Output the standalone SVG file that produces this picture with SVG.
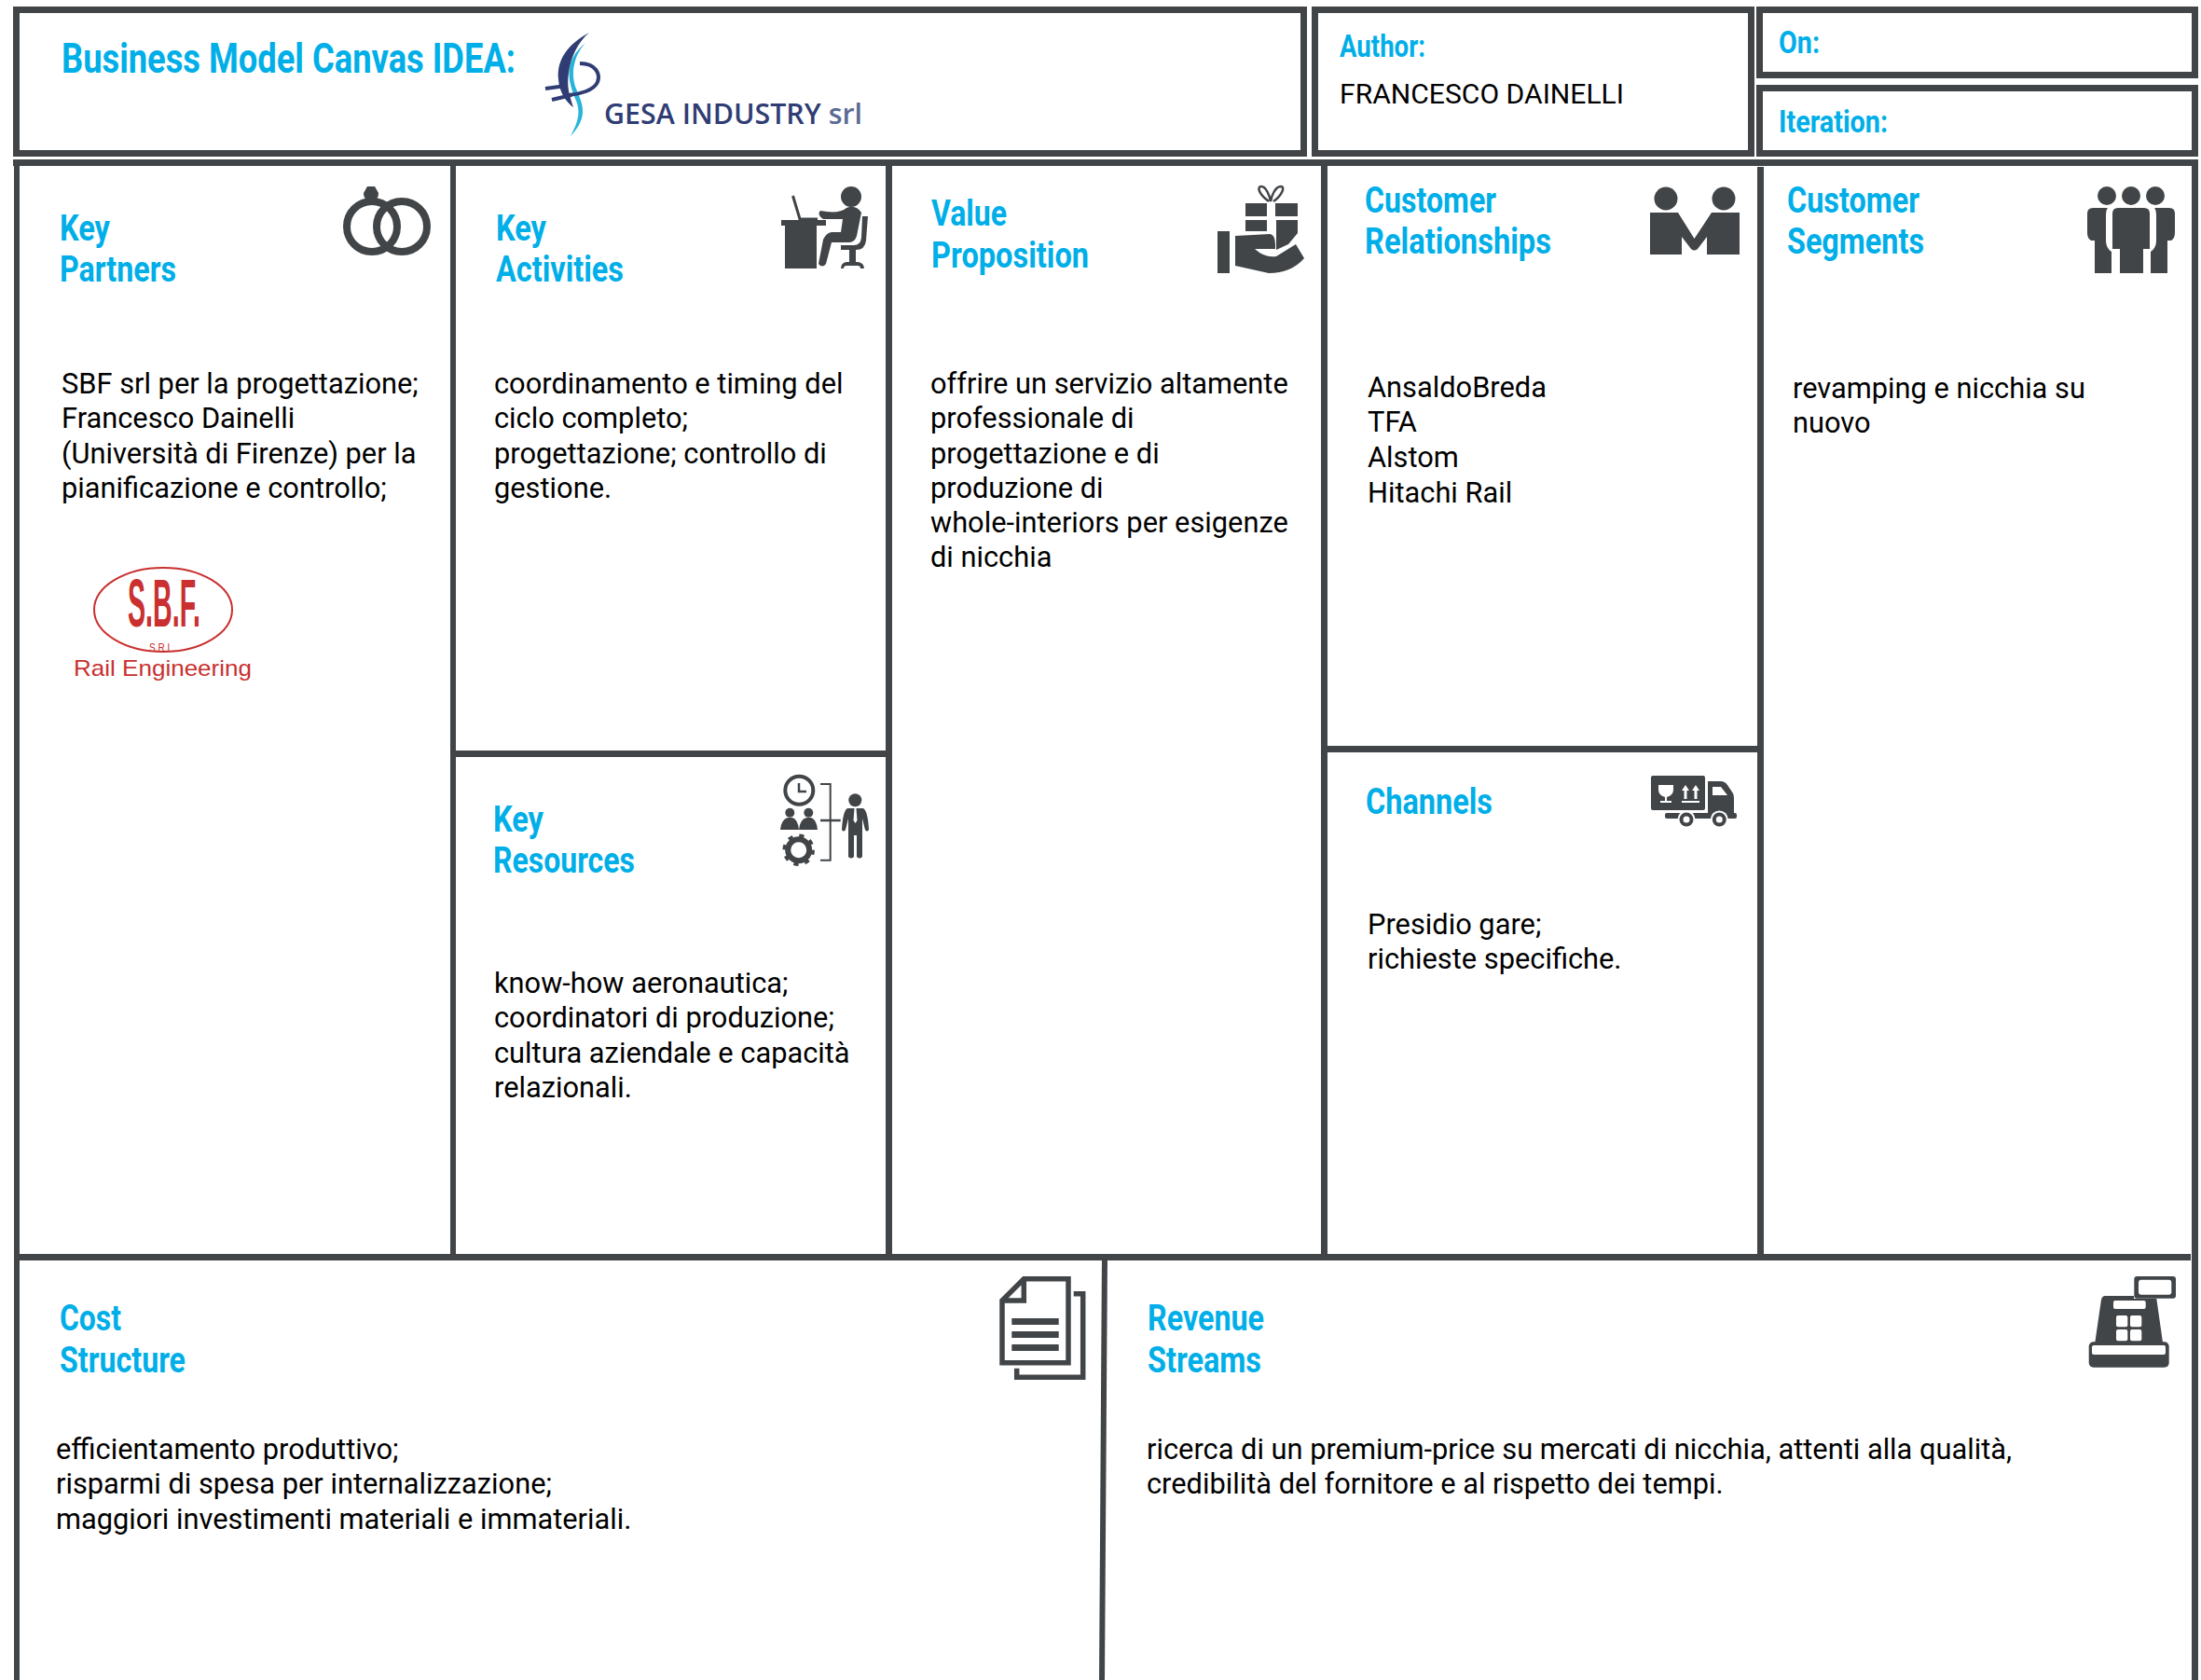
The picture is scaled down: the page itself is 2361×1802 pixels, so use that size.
<svg xmlns="http://www.w3.org/2000/svg" width="2361" height="1802" viewBox="0 0 2361 1802">
<style>
.b{fill:none;stroke:#414548;stroke-width:7}
.l{fill:#414548}
.w{fill:#fff}
.o{fill:none;stroke:#414548}
.h{font-family:Roboto,"Liberation Sans",sans-serif;font-weight:700;font-size:38px;fill:#00aee8}
.h2{font-size:34px}
.t{font-family:Roboto,"Liberation Sans",sans-serif;font-size:30.8px;fill:#000}
.g{font-family:"Open Sans","Liberation Sans",sans-serif;font-weight:600;fill:#2f3d74}
.r{font-family:"Liberation Sans",sans-serif;fill:#c9302f}
</style>
<rect width="2361" height="1802" fill="#fff"/>
<g id="grid">
<rect class="b" x="17.5" y="10.5" width="1381" height="154"/>
<rect class="b" x="1410.5" y="10.5" width="468" height="154"/>
<rect class="b" x="1887.5" y="10.5" width="467" height="70"/>
<rect class="b" x="1887.5" y="94.5" width="467" height="70"/>
<rect class="l" x="14" y="171" width="2344" height="7"/>
<rect class="l" x="15" y="171" width="6" height="1631"/>
<rect class="l" x="2351" y="171" width="7" height="1631"/>
<rect class="l" x="483" y="178" width="6" height="1174"/>
<rect class="l" x="950" y="178" width="7" height="1174"/>
<rect class="l" x="1417" y="178" width="7" height="1174"/>
<rect class="l" x="1885" y="179" width="7" height="1173"/>
<rect class="l" x="489" y="805" width="468" height="7"/>
<rect class="l" x="1424" y="800" width="461" height="7"/>
<rect class="l" x="15" y="1345" width="2335" height="7"/>
<path class="l" d="M1182,1345H1188L1185,1802H1179Z"/>
</g>
<g id="header">
<text class="h" x="66" y="78" style="font-size:44px" textLength="487" lengthAdjust="spacingAndGlyphs">Business Model Canvas IDEA:</text>
<g id="gesa-logo">
<path d="M628,46C615,60 612,80 618,95C625,112 632,125 612,146C622,128 622,118 618,108C608,85 605,65 628,46Z" fill="#29b5da"/>
<path d="M632,35C608,48 597,65 599,85C600,100 608,110 615,115C610,100 608,92 610,78C612,62 620,45 632,35Z" fill="#2f3d74"/>
<path d="M622,68C640,68 644,80 641,88C637,97 622,101 610,102M585,95L607,92M592,107L613,102" fill="none" stroke="#2f3d74" stroke-width="4"/>
<text class="g" x="648" y="133" font-size="31" textLength="277" lengthAdjust="spacingAndGlyphs">GESA INDUSTRY <tspan fill="#5b6b94">srl</tspan></text>
</g>
<text class="h h2" x="1437" y="61" style="font-size:34px" textLength="92" lengthAdjust="spacingAndGlyphs">Author:</text>
<text class="t" x="1437" y="111" style="font-size:30px" textLength="305" lengthAdjust="spacingAndGlyphs">FRANCESCO DAINELLI</text>
<text class="h" x="1908" y="57" style="font-size:34px" textLength="44" lengthAdjust="spacingAndGlyphs">On:</text>
<text class="h" x="1908" y="142" style="font-size:34px" textLength="117" lengthAdjust="spacingAndGlyphs">Iteration:</text>
</g>
<g id="key-partners">
<text class="h" x="64" y="258" textLength="54" lengthAdjust="spacingAndGlyphs">Key</text>
<text class="h" x="64" y="302" textLength="125" lengthAdjust="spacingAndGlyphs">Partners</text>
<circle class="o" cx="399" cy="243" r="27" stroke-width="8"/>
<circle class="o" cx="431" cy="243" r="27" stroke-width="8"/>
<path class="l" d="M394,200H402L406,207Q406,213 402,214V218H394V214Q390,213 390,207Z"/>
<text class="t" x="66" y="422">SBF srl per la progettazione;</text>
<text class="t" x="66" y="459">Francesco Dainelli</text>
<text class="t" x="66" y="497">(Università di Firenze) per la</text>
<text class="t" x="66" y="534">pianificazione e controllo;</text>
<g id="sbf-logo">
<ellipse cx="175" cy="654" rx="74" ry="45" fill="none" stroke="#c9302f" stroke-width="2"/>
<text class="r" x="137" y="672" font-size="72" font-weight="700" textLength="78" lengthAdjust="spacingAndGlyphs">S.B.F.</text>
<text class="r" x="160" y="699" font-size="12" textLength="28" lengthAdjust="spacingAndGlyphs">S.R.L.</text>
<text class="r" x="79" y="725" font-size="24" textLength="191" lengthAdjust="spacingAndGlyphs">Rail Engineering</text>
</g>
</g>
<g id="key-activities">
<text class="h" x="532" y="258" textLength="54" lengthAdjust="spacingAndGlyphs">Key</text>
<text class="h" x="532" y="302" textLength="137" lengthAdjust="spacingAndGlyphs">Activities</text>
<ellipse class="l" cx="913" cy="211" rx="11" ry="11"/>
<path class="l" d="M838,236H886V242H876V288H842V242H838Z"/>
<path class="o" d="M850.5,210L858,235H877" stroke-width="3"/>
<path class="l" d="M880,226Q900,230 908,223Q918,219 924,228L919,253Q917,260 910,260H892L886,283Q882,288 878,283L883,257Q886,250 892,249H902L904,235H883Q876,230 880,226Z"/>
<path class="l" d="M925,232H931L929,258Q928,268 918,268V282H911V268H902V263H916Q923,263 924,255Z"/>
<path class="l" d="M902,288Q902,282 908,281H920Q927,282 927,288H923Q923,285 920,285H908Q905,285 905,288Z"/>
<text class="t" x="530" y="422">coordinamento e timing del</text>
<text class="t" x="530" y="459">ciclo completo;</text>
<text class="t" x="530" y="497">progettazione; controllo di</text>
<text class="t" x="530" y="534">gestione.</text>
</g>
<g id="key-resources">
<text class="h" x="529" y="892" textLength="54" lengthAdjust="spacingAndGlyphs">Key</text>
<text class="h" x="529" y="936" textLength="152" lengthAdjust="spacingAndGlyphs">Resources</text>
<circle class="o" cx="857.3" cy="847.7" r="15" stroke-width="4"/>
<path class="o" d="M857,840V849H865" stroke-width="2.5"/>
<circle class="l" cx="847.3" cy="871.7" r="5"/>
<circle class="l" cx="867.3" cy="871.7" r="5"/>
<path class="l" d="M837,890Q838,879 845,877H850Q856,879 857,890ZM857,890Q858,879 865,877H870Q876,879 877,890Z"/>
<circle class="o" cx="856.7" cy="911.7" r="11.5" stroke-width="6"/>
<circle class="o" cx="856.7" cy="911.7" r="15" stroke-width="4.5" stroke-dasharray="5 6.8"/>
<path class="o" d="M880,841H890.7V922.7H880" stroke-width="2"/>
<path class="o" d="M880,880H901.7" stroke-width="2.5"/>
<circle class="l" cx="917.3" cy="858.3" r="7"/>
<path class="l" d="M909,867H926Q931,870 932,890Q930,893 928,890L925,878V919Q922,922 919,919V896H916V919Q913,922 910,919V878L907,890Q905,893 903,890Q904,870 909,867Z"/>
<path class="w" d="M916.5,867H918.5L919.5,880L917.5,883L915.5,880Z"/>
<text class="t" x="530" y="1065">know-how aeronautica;</text>
<text class="t" x="530" y="1102">coordinatori di produzione;</text>
<text class="t" x="530" y="1140">cultura aziendale e capacità</text>
<text class="t" x="530" y="1177">relazionali.</text>
</g>
<g id="value-proposition">
<text class="h" x="999" y="242" textLength="81" lengthAdjust="spacingAndGlyphs">Value</text>
<text class="h" x="999" y="287" textLength="169" lengthAdjust="spacingAndGlyphs">Proposition</text>
<path class="l" d="M1336,218H1359V232H1336ZM1368,218H1392V232H1368ZM1336,236H1359V248H1336ZM1369,236H1392V250L1382,262L1369,268Z"/>
<path class="o" d="M1361,216C1350,208 1348,200 1353,200C1358,200 1362,210 1363,216C1364,210 1368,200 1374,200C1379,200 1375,210 1366,216" stroke-width="2.5"/>
<rect class="l" x="1306" y="248" width="13" height="45"/>
<path class="l" d="M1325,253Q1345,252 1362,251Q1368,252 1368,262V267H1346Q1357,277 1369,275L1390,262L1399,277Q1385,293 1361,293L1325,285Z"/>
<text class="t" x="998" y="422">offrire un servizio altamente</text>
<text class="t" x="998" y="459">professionale di</text>
<text class="t" x="998" y="497">progettazione e di</text>
<text class="t" x="998" y="534">produzione di</text>
<text class="t" x="998" y="571">whole-interiors per esigenze</text>
<text class="t" x="998" y="608">di nicchia</text>
</g>
<g id="customer-relationships">
<text class="h" x="1464" y="228" textLength="141" lengthAdjust="spacingAndGlyphs">Customer</text>
<text class="h" x="1464" y="272" textLength="200" lengthAdjust="spacingAndGlyphs">Relationships</text>
<circle class="l" cx="1787" cy="213" r="12.5"/>
<circle class="l" cx="1849" cy="213" r="12.5"/>
<path class="l" d="M1770,228H1800L1817.5,256L1836,228H1866V273H1831V254L1821,267Q1817.5,270 1814,267L1804,254V273H1770Z"/>
<text class="t" x="1467" y="426">AnsaldoBreda</text>
<text class="t" x="1467" y="463">TFA</text>
<text class="t" x="1467" y="501">Alstom</text>
<text class="t" x="1467" y="539">Hitachi Rail</text>
</g>
<g id="channels">
<text class="h" x="1465" y="873" textLength="136" lengthAdjust="spacingAndGlyphs">Channels</text>
<rect class="l" x="1771" y="832" width="58" height="37" rx="2"/>
<path class="w" d="M1779,842H1795V847Q1795,853 1788,855V859H1793V861H1781V859H1786V855Q1779,853 1779,847Z"/>
<path class="w" d="M1808,842L1812,848H1809.5V857H1806.5V848H1804ZM1819,842L1823,848H1820.5V857H1817.5V848H1815ZM1804,859H1823V861H1804Z"/>
<path class="l" d="M1832,838H1846Q1850,838 1853,842L1859,851Q1860,853 1860,856V873H1832Z"/>
<path class="w" d="M1837,844H1846L1853,853H1837Z"/>
<rect class="l" x="1786" y="872" width="77" height="6" rx="2"/>
<circle class="w" cx="1809" cy="879" r="9.5"/>
<circle class="l" cx="1809" cy="879" r="7.5"/>
<circle class="w" cx="1809" cy="879" r="3.5"/>
<circle class="w" cx="1844.3" cy="879" r="9.5"/>
<circle class="l" cx="1844.3" cy="879" r="7.5"/>
<circle class="w" cx="1844.3" cy="879" r="3.5"/>
<text class="t" x="1467" y="1002">Presidio gare;</text>
<text class="t" x="1467" y="1039">richieste specifiche.</text>
</g>
<g id="customer-segments">
<text class="h" x="1917" y="228" textLength="142" lengthAdjust="spacingAndGlyphs">Customer</text>
<text class="h" x="1917" y="272" textLength="147" lengthAdjust="spacingAndGlyphs">Segments</text>
<circle class="l" cx="2260" cy="210" r="10"/>
<circle class="l" cx="2286" cy="210" r="10"/>
<circle class="l" cx="2312" cy="210" r="10"/>
<path class="l" d="M2272,223H2300Q2306,223 2306,229V267H2299V293H2274V267H2266V229Q2266,223 2272,223Z"/>
<path class="l" d="M2245,223H2261Q2259,225 2259,232V258Q2259,266 2265,270V293H2247V258H2243Q2239,256 2239,250V229Q2239,223 2245,223Z"/>
<path class="l" d="M2327,223H2311Q2313,225 2313,232V258Q2313,266 2307,270V293H2325V258H2329Q2333,256 2333,250V229Q2333,223 2327,223Z"/>
<text class="t" x="1923" y="427">revamping e nicchia su</text>
<text class="t" x="1923" y="464">nuovo</text>
</g>
<g id="cost-structure">
<text class="h" x="64" y="1427" textLength="66" lengthAdjust="spacingAndGlyphs">Cost</text>
<text class="h" x="64" y="1472" textLength="135" lengthAdjust="spacingAndGlyphs">Structure</text>
<path class="o" d="M1075,1395L1098.3,1371.7H1146V1461.7H1075ZM1098.3,1371.7V1395H1075" stroke-width="5.5"/>
<path class="l" d="M1085.3,1414H1135.7V1421H1085.3ZM1085.3,1428H1135.7V1435H1085.3ZM1085.3,1442H1135.7V1449H1085.3Z"/>
<path class="o" d="M1151.7,1387.7H1161.7V1477.3H1090.7V1467.7" stroke-width="5.5"/>
<text class="t" x="60" y="1565">efficientamento produttivo;</text>
<text class="t" x="60" y="1602">risparmi di spesa per internalizzazione;</text>
<text class="t" x="60" y="1640">maggiori investimenti materiali e immateriali.</text>
</g>
<g id="revenue-streams">
<text class="h" x="1231" y="1427" textLength="125" lengthAdjust="spacingAndGlyphs">Revenue</text>
<text class="h" x="1231" y="1472" textLength="122" lengthAdjust="spacingAndGlyphs">Streams</text>
<rect class="l" x="2289.3" y="1369" width="44.7" height="23.7" rx="3"/>
<rect class="w" x="2294" y="1372.7" width="35.3" height="16" rx="3"/>
<path class="l" d="M2258,1390H2289V1393H2313.3L2320,1440H2247.3L2254,1394Q2255,1390 2258,1390Z"/>
<rect class="l" x="2240.7" y="1439.3" width="86" height="27.4" rx="5"/>
<rect class="w" x="2244" y="1443" width="79" height="10" rx="2"/>
<rect class="w" x="2267" y="1395" width="34.7" height="9" rx="2"/>
<rect class="w" x="2270" y="1411" width="12.3" height="12.3" rx="2"/>
<rect class="w" x="2285" y="1411" width="12.3" height="12.3" rx="2"/>
<rect class="w" x="2270" y="1426" width="12.3" height="12.3" rx="2"/>
<rect class="w" x="2285" y="1426" width="12.3" height="12.3" rx="2"/>
<text class="t" x="1230" y="1565">ricerca di un premium-price su mercati di nicchia, attenti alla qualità,</text>
<text class="t" x="1230" y="1602">credibilità del fornitore e al rispetto dei tempi.</text>
</g>
</svg>
